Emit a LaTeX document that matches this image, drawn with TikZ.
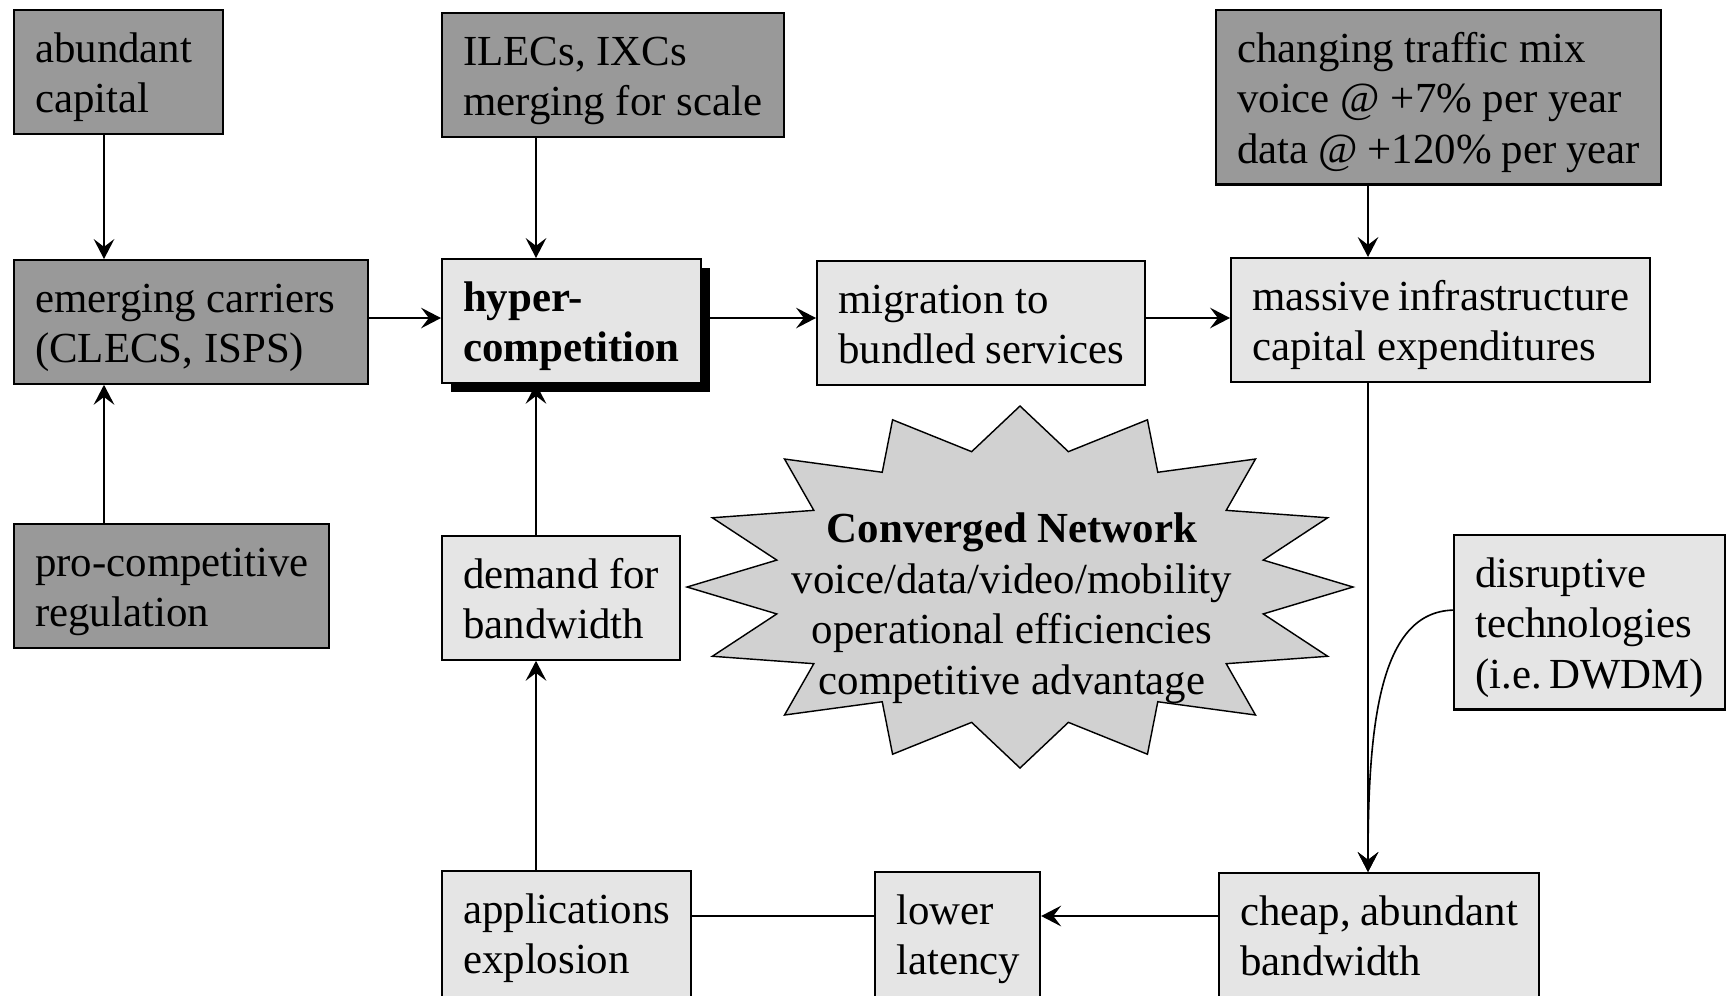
\documentclass[tikz,border=0pt]{standalone}
\usepackage{fontspec}
\setmainfont{Liberation Serif}
\usetikzlibrary{arrows.meta,shadows}
\definecolor{darkbox}{gray}{0.6}
\definecolor{lightbox}{gray}{0.9}
\definecolor{starfill}{gray}{0.82}
\newcommand{\boxfont}{\fontsize{12pt}{14.2pt}\selectfont}
\tikzset{
    blk/.style={draw, line width=0.6pt, anchor=north west, align=flush left,
        inner xsep=5.9pt, inner ysep=4.56pt, text height=10pt, text depth=15.5pt,
        text width=#1*0.28pt-11.8pt},
    dark/.style={fill=darkbox},
    light/.style={fill=lightbox},
    three/.style={text depth=29.7pt},
    cut/.style={text depth=17.5pt},
    arr/.style={line width=0.45pt, -{Stealth[length=5.6pt, width=5.8pt, inset=2.2pt]}},
    con/.style={line width=0.45pt}
}
\begin{document}
\begin{tikzpicture}[x=0.28pt, y=-0.28pt, font=\boxfont]
        \useasboundingbox (0,0) rectangle (1726,995);

        \draw[line width=0.4pt, fill=starfill, shift={(1020,587)}] (90:333 and 181)
            \foreach \k in {0,...,15} { -- ({101.25+22.5*\k}:248 and 138) -- ({112.5+22.5*\k}:333 and 181) } -- cycle;
        \node[align=flush center, anchor=north, inner sep=0pt, text height=10pt, text width=130pt] (conv) at (1012,506)
            {\textbf{Converged Network}\\voice/data/video/mobility\\operational efficiencies\\competitive advantage};

        \node[blk=209, dark] (capital) at (13,9) {abundant\\capital};
        \node[blk=342, dark] (ilec) at (441,12) {ILECs, IXCs\\merging~for~scale};
        \node[blk=445, dark, three] (traffic) at (1215,9) {changing traffic mix\\voice @ +7\% per year\\data~@~+120\%~per~year};
        \node[blk=354, dark] (carriers) at (13,259) {emerging carriers\\(CLECS, ISPS)};
        \node[blk=259, light, font=\boxfont\bfseries,
            drop shadow={shadow xshift=2.5pt, shadow yshift=-2.5pt, fill=black, opacity=1}] (hyper) at (441,258) {hyper-\\competition};
        \node[blk=328, light] (bundle) at (816,260) {migration to\\bundled~services};
        \node[blk=419, light] (infra) at (1230,257) {massive~infrastructure\\capital expenditures};
        \node[blk=315, dark] (regul) at (13,523) {\mbox{pro-competitive}\\regulation};
        \node[blk=238, light] (demand) at (441,535) {demand~for\\bandwidth};
        \node[blk=271, light, three] (disrupt) at (1453,534) {disruptive\\technologies\\(i.e.~DWDM)};
        \node[blk=249, light, cut] (apps) at (441,870) {applications\\explosion};
        \node[blk=165, light, cut] (latency) at (874,871) {lower\\latency};
        \node[blk=320, light, cut] (cheap) at (1218,872) {cheap,~abundant\\bandwidth};

        \coordinate (colA) at (104,0);
        \coordinate (colB) at (536,0);
        \coordinate (colC) at (1368,0);
        \coordinate (rowM) at (0,318);
        \coordinate (rowL) at (0,916);

        \draw[arr] (capital.south -| colA) -- (carriers.north -| colA);
        \draw[arr] (regul.north -| colA) -- (carriers.south -| colA);
        \draw[arr] (ilec.south -| colB) -- (hyper.north -| colB);
        \draw[arr] (demand.north -| colB) -- (hyper.south -| colB);
        \draw[arr] (apps.north -| colB) -- (demand.south -| colB);
        \draw[arr] (carriers.east |- rowM) -- (hyper.west |- rowM);
        \draw[arr] (hyper.east |- rowM) -- (bundle.west |- rowM);
        \draw[arr] (bundle.east |- rowM) -- (infra.west |- rowM);
        \draw[arr] (traffic.south -| colC) -- (infra.north -| colC);
        \draw[arr] (infra.south -| colC) -- (cheap.north -| colC);
        \draw[arr] ([yshift=3.4pt]disrupt.west) .. controls +(-73,2) and +(0,-150) .. (cheap.north -| colC);
        \draw[arr] (cheap.west |- rowL) -- (latency.east |- rowL);
        \draw[con] (latency.west |- rowL) -- (apps.east |- rowL);
\end{tikzpicture}
\end{document}
